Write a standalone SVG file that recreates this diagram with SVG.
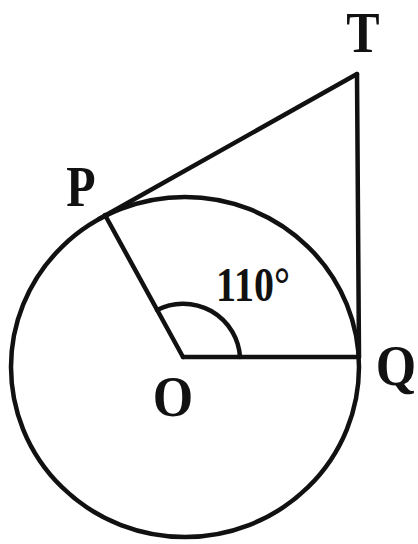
<svg xmlns="http://www.w3.org/2000/svg" width="418" height="544" viewBox="0 0 418 544">
<style>
.ln{fill:none;stroke:#111;stroke-width:4.5;stroke-linecap:round;stroke-linejoin:round}
.lb{font-family:"Liberation Serif","Times New Roman",serif;font-weight:bold;fill:#111;text-anchor:middle}
</style>
<rect width="418" height="544" fill="#fff"/>
<g id="circle"><ellipse class="ln" cx="185" cy="367" rx="174" ry="170"/></g>
<g id="connectors">
<line class="ln" x1="99" y1="219" x2="357" y2="74"/>
<line class="ln" x1="357" y1="74" x2="359" y2="357"/>
<line class="ln" x1="105" y1="215" x2="183" y2="357"/>
<line class="ln" x1="183" y1="357" x2="359" y2="357"/>
<path class="ln" d="M240,357 A57,57 0 0 0 157,310"/>
</g>
<g id="label-T"><text class="lb" font-size="50" transform="translate(363,52) scale(1,1.15)">T</text></g>
<g id="label-P"><text class="lb" font-size="48" transform="translate(81,206) scale(1,1.2)">P</text></g>
<g id="label-O"><text class="lb" font-size="52" transform="translate(173,416) scale(1,1.1)">O</text></g>
<g id="label-Q"><text class="lb" font-size="52" transform="translate(396,385) scale(1,1.1)">Q</text></g>
<g id="angle"><text class="lb" font-size="40" transform="translate(253,301) scale(1,1.2)">110°</text></g>
</svg>
